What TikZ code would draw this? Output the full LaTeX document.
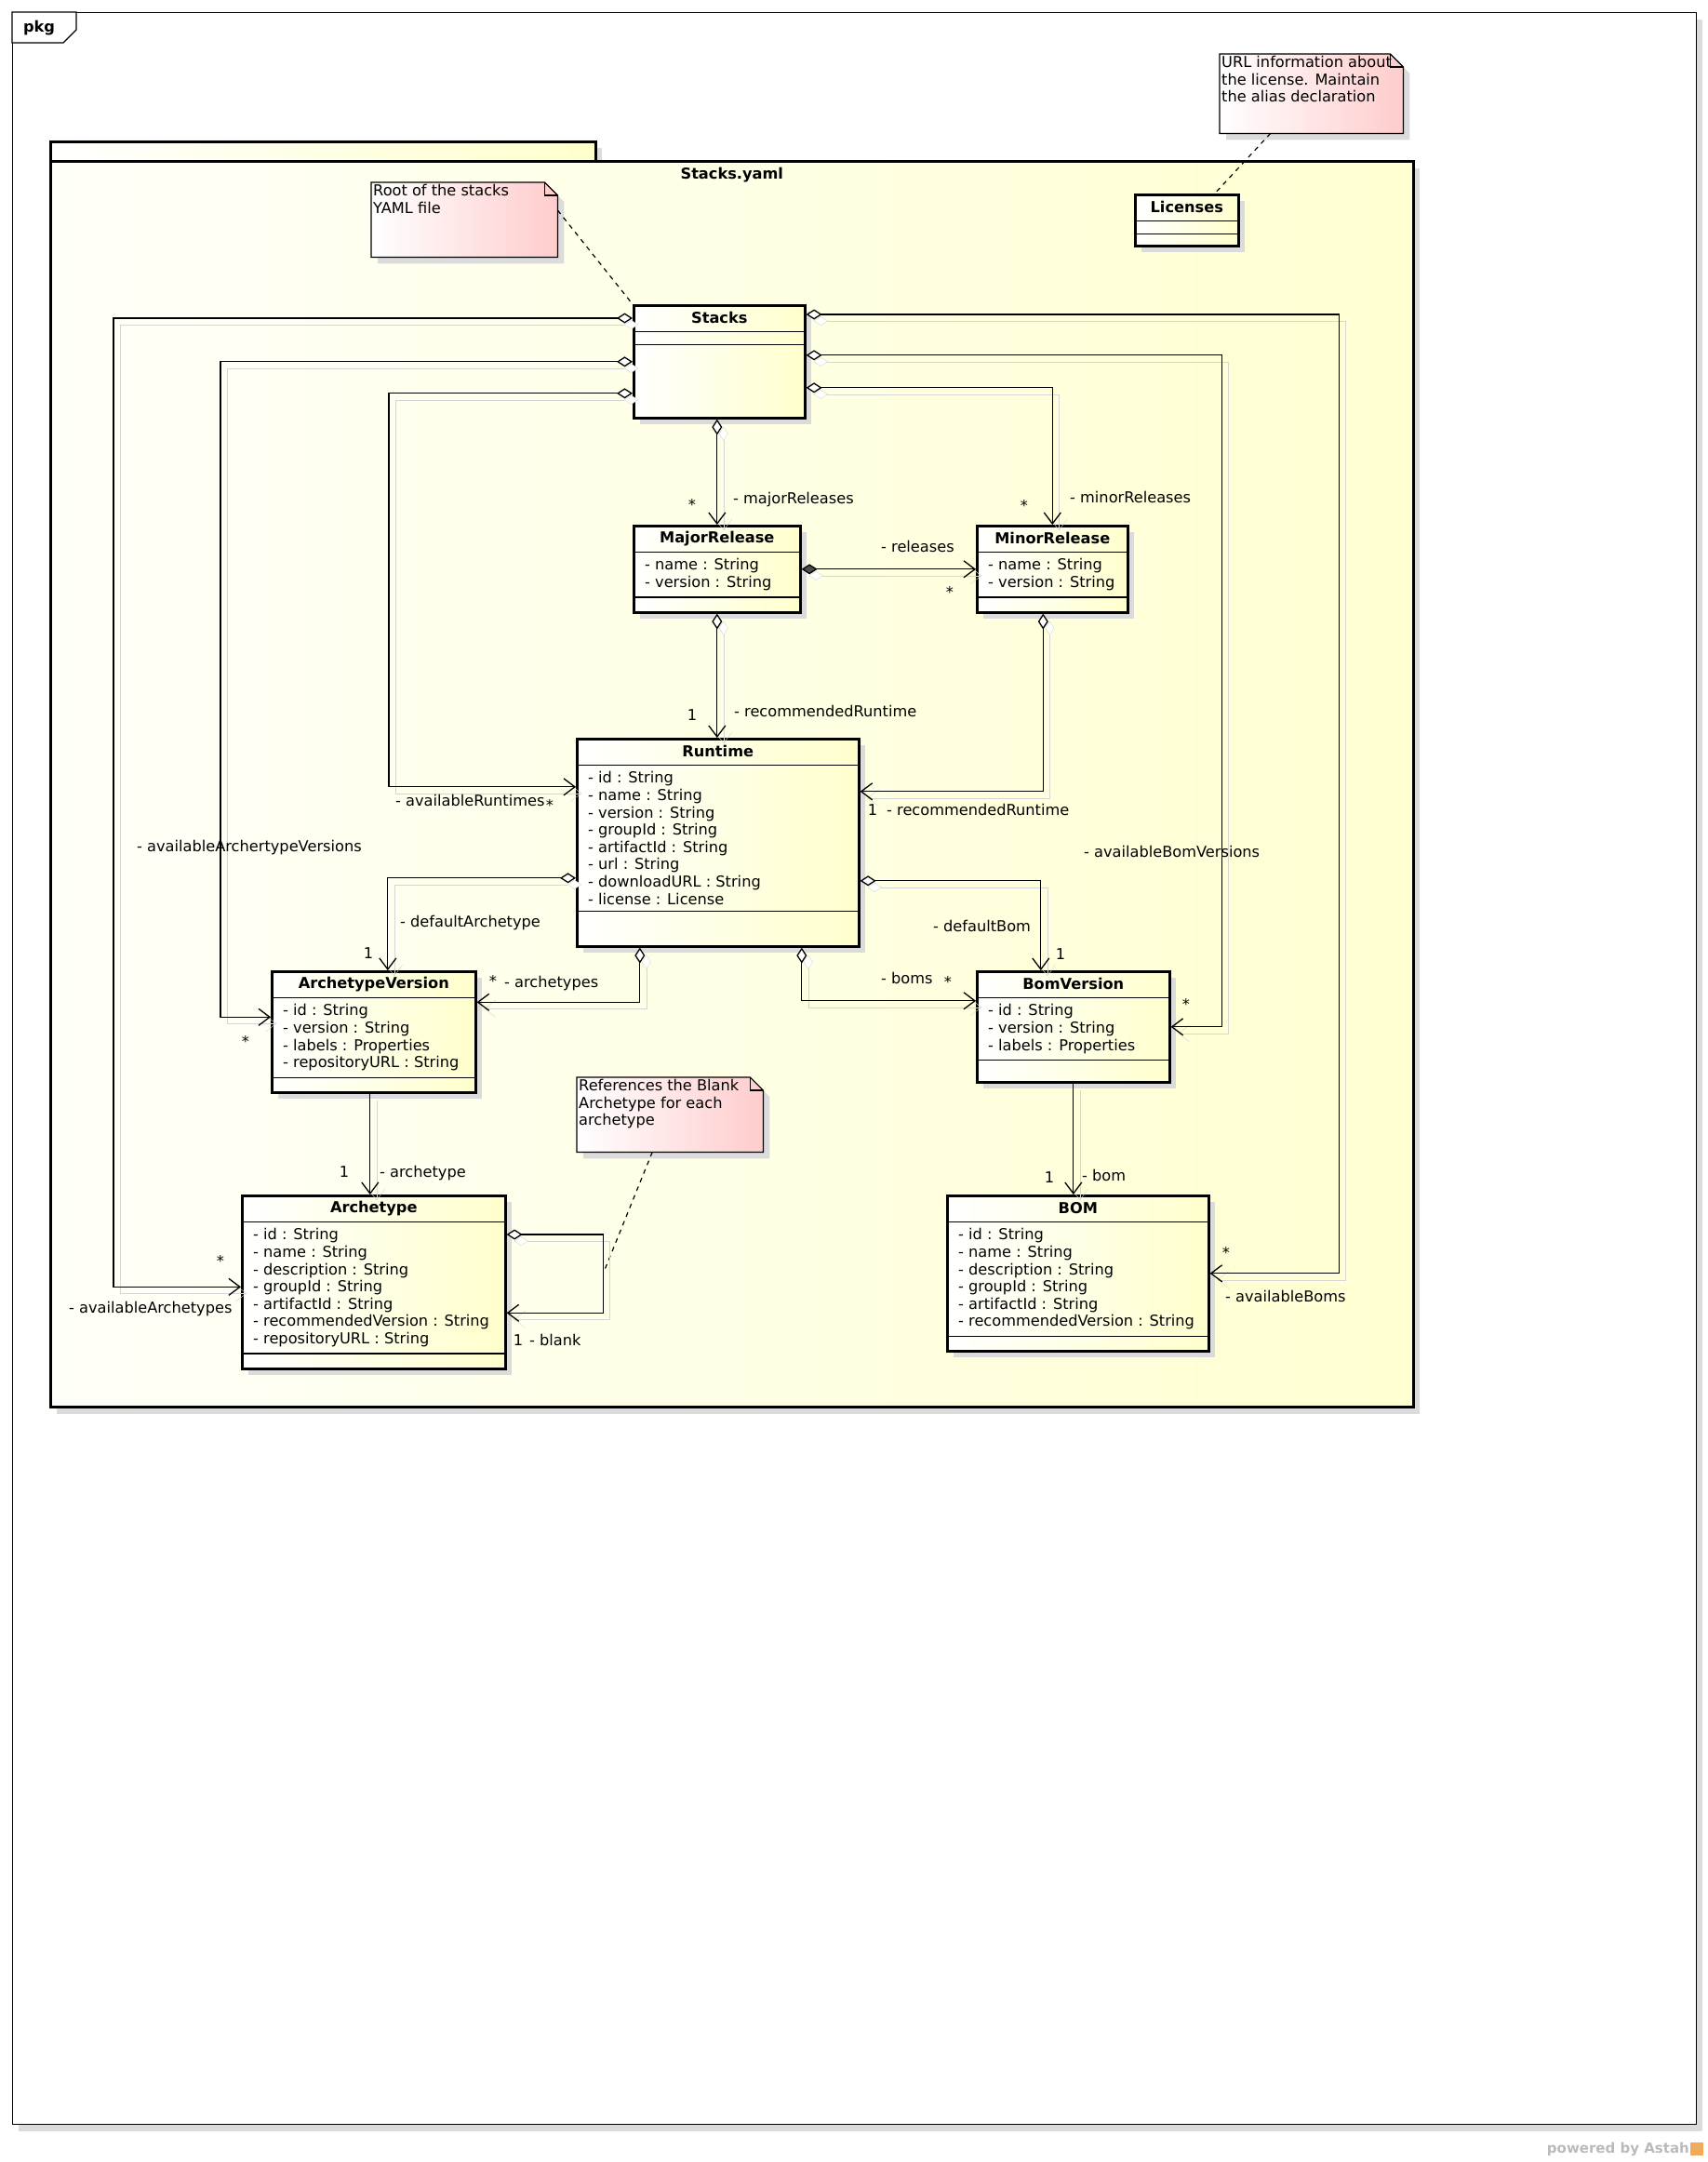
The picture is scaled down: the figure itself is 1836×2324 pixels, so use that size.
\documentclass[tikz,border=0pt]{standalone}
\usepackage{fontspec}
\setmainfont{DejaVu Sans}
\usepackage{tikz}
\usetikzlibrary{arrows.meta,positioning,shadows,calc}
\definecolor{cyellow}{RGB}{255,255,204}
\definecolor{npink}{RGB}{255,204,204}
\definecolor{shadowgray}{gray}{0.86}
\definecolor{shadowline}{gray}{0.84}
\definecolor{astahorange}{RGB}{240,170,90}
\newcommand{\umlfont}{\fontsize{16.2pt}{18.6pt}\selectfont}

% class box: name, top left, width, height, title, attributes
\newcommand{\umlclass}[6]{%
  \node[classbox, minimum width=#3, minimum height=#4] (#1) at #2 {};
  \node[classtitle] (#1-t) at (#1.north) {#5};
  \node[classattr] (#1-a) at (#1-t.south -| #1.west) {#6};
  \draw[sep] (#1-t.south -| #1.west) -- (#1-t.south -| #1.east)
             (#1-a.south -| #1.west) -- (#1-a.south -| #1.east);
}
% note: name, top left, width, height, text
\newcommand{\umlnote}[5]{%
  \node[notebox, minimum width=#3, minimum height=#4] (#1) at #2 {};
  \shade[notefill] (#1.north west) -- ([xshift=-14pt]#1.north east)
    -- ([yshift=-14pt]#1.north east) -- (#1.south east) -- (#1.south west) -- cycle;
  \draw[line width=1.2pt] ([xshift=-14pt]#1.north east) |- ([yshift=-14pt]#1.north east);
  \node[notetext] (#1-txt) at (#1.north west) {#5};
}

\begin{document}
\begin{tikzpicture}[
    x=1pt, y=-1pt,
    every node/.style={font=\umlfont},
    classbox/.style={draw, line width=2.6pt, anchor=north west, inner sep=0pt,
                     left color=white, right color=cyellow,
                     drop shadow={shadow xshift=7pt, shadow yshift=-7pt, fill=shadowgray, opacity=1}},
    classtitle/.style={anchor=north, minimum height=29pt, inner sep=0pt, font=\umlfont\bfseries},
    classattr/.style={anchor=north west, align=left, inner xsep=13pt, inner ysep=7pt},
    sep/.style={line width=1.2pt},
    notebox/.style={anchor=north west, inner sep=0pt},
    notefill/.style={draw, line width=1.2pt, left color=white, right color=npink,
                     drop shadow={shadow xshift=7pt, shadow yshift=-7pt, fill=shadowgray, opacity=1}},
    notetext/.style={anchor=north west, align=left, inner xsep=2pt, inner ysep=2pt},
    noteline/.style={line width=1.2pt, dash pattern=on 5pt off 5pt},
    cshadow/.style={preaction={draw=shadowline, transform canvas={shift={(7pt,-7pt)}},
                    {Diamond[fill=white,length=17pt,width=11pt]}-{Straight Barb[length=12pt,width=18pt]}}},
    agg/.style={line width=1.3pt, cshadow,
                {Diamond[fill=white,length=17pt,width=11pt]}-{Straight Barb[length=12pt,width=18pt]}},
    comp/.style={line width=1.3pt, cshadow,
                 {Diamond[fill=black!70,length=17pt,width=11pt]}-{Straight Barb[length=12pt,width=18pt]}},
    nav/.style={line width=1.3pt,
                preaction={draw=shadowline, transform canvas={shift={(7pt,-7pt)}}},
                -{Straight Barb[length=12pt,width=18pt]}},
    lbl/.style={anchor=west, inner sep=0pt, text height=11.9pt, text depth=3.7pt},
    mult/.style={inner sep=0pt, text height=11.9pt, text depth=3.7pt}
  ]
  \useasboundingbox (0,0) rectangle (1836,2324);

  % diagram frame
  \node[draw, line width=1.2pt, anchor=north west, fill=white, minimum width=1810pt, minimum height=2270pt,
        drop shadow={shadow xshift=6pt, shadow yshift=-7pt, fill=shadowgray, opacity=1}] (frame) at (13,13) {};
  \draw[line width=1.2pt, fill=white] (frame.north west) -- ++(69,0) -- ++(0,19) -- ++(-14,14) -- ++(-55,0) -- cycle;
  \node[font=\umlfont\bfseries] (pkgtag) at (42,30) {pkg};

  % package Stacks.yaml
  \node[draw, line width=2.6pt, anchor=north west, left color=white, right color=cyellow,
        minimum width=586pt, minimum height=21pt,
        drop shadow={shadow xshift=7pt, shadow yshift=-7pt, fill=shadowgray, opacity=1}] (pkgtab) at (53,151) {};
  \node[draw, line width=2.6pt, anchor=north west, left color=cyellow!12, right color=cyellow!90,
        minimum width=1465pt, minimum height=1339pt,
        drop shadow={shadow xshift=7pt, shadow yshift=-8pt, fill=shadowgray, opacity=1}] (pkg) at (53,172) {};
  \node[font=\umlfont\bfseries] (pkgname) at ([yshift=-16pt]pkg.north) {Stacks.yaml};

  % notes
  \umlnote{rootnote}{(399,196)}{200pt}{80pt}{Root of the stacks\\YAML file}
  \umlnote{licnote}{(1311,58)}{197pt}{85pt}{URL information about\\the license. Maintain\\the alias declaration}
  \umlnote{blanknote}{(620,1158)}{200pt}{80pt}{References the Blank\\Archetype for each\\archetype}

  % classes
  \umlclass{stacks}{(680,327)}{184pt}{121pt}{Stacks}{}
  \umlclass{licenses}{(1219,208)}{111pt}{55pt}{Licenses}{}
  \umlclass{major}{(680,564)}{179pt}{93pt}{MajorRelease}{- name : String\\- version : String}
  \umlclass{minor}{(1049,564)}{162pt}{93pt}{MinorRelease}{- name : String\\- version : String}
  \umlclass{runtime}{(619,793)}{303pt}{223pt}{Runtime}{- id : String\\- name : String\\- version : String\\- groupId : String\\- artifactId : String\\- url : String\\- downloadURL : String\\- license : License}
  \umlclass{archv}{(291,1043)}{219pt}{130pt}{ArchetypeVersion}{- id : String\\- version : String\\- labels : Properties\\- repositoryURL : String}
  \umlclass{arch}{(259,1284)}{283pt}{186pt}{Archetype}{- id : String\\- name : String\\- description : String\\- groupId : String\\- artifactId : String\\- recommendedVersion : String\\- repositoryURL : String}
  \umlclass{bomv}{(1049,1043)}{207pt}{119pt}{BomVersion}{- id : String\\- version : String\\- labels : Properties}
  \umlclass{bom}{(1017,1284)}{281pt}{167pt}{BOM}{- id : String\\- name : String\\- description : String\\- groupId : String\\- artifactId : String\\- recommendedVersion : String}

  % note links
  \coordinate (blankmid) at ([xshift=104pt,yshift=10pt]arch.east);
  \draw[noteline] ([yshift=-30pt]rootnote.north east) -- (stacks.north west);
  \draw[noteline] ([xshift=-44pt]licnote.south) -- ([xshift=30pt]licenses.north);
  \draw[noteline] ([xshift=-19pt]blanknote.south) -- (blankmid);

  % associations
  \draw[agg] ([yshift=-15pt]stacks.north west) -| ([xshift=-137pt,yshift=-5pt]arch.west) -- ([yshift=-5pt]arch.west);
  \draw[agg] (stacks.west) -| ([xshift=-54pt,yshift=16pt]archv.west) -- ([yshift=16pt]archv.west);
  \draw[agg] ([yshift=-34pt]stacks.west) -| ([xshift=-201pt,yshift=60pt]runtime.west) -- ([yshift=60pt]runtime.west);
  \draw[agg] ([yshift=7pt]stacks.east) -| ([xshift=55pt]bomv.east) -- (bomv.east);
  \draw[agg] ([yshift=-11pt]stacks.north east) -| ([xshift=139pt]bom.east) -- (bom.east);
  \draw[agg] ([yshift=-28pt]stacks.east) -| (minor.north);
  \draw[agg] (major.north |- stacks.south) -- (major.north);
  \draw[comp] (major.east) -- (minor.west);
  \draw[agg] (major.south) -- (major.south |- runtime.north);
  \draw[agg] ([xshift=-10pt]minor.south) |- ([yshift=55pt]runtime.east);
  \draw[agg] ([yshift=-38pt]runtime.west) -| ([xshift=15pt]archv.north);
  \draw[agg] ([xshift=-84pt]runtime.south) |- ([yshift=32pt]archv.east);
  \draw[agg] ([yshift=-41pt]runtime.east) -| ([xshift=-35pt]bomv.north);
  \draw[agg] ([xshift=90pt]runtime.south) |- ([yshift=28pt]bomv.west);
  \draw[nav] ([xshift=-4pt]archv.south) -- ([xshift=-4pt]archv.south |- arch.north);
  \draw[agg] ([yshift=-43pt]arch.north east) -- ++(104,0) |- ([yshift=-33pt]arch.east);
  \draw[nav] (bomv.south) -- (bomv.south |- bom.north);

  % role names and multiplicities
  \node[lbl] (l-majrel) at (788,537) {- majorReleases};
  \node[mult] (m-majrel) at (744,544) {*};
  \node[lbl] (l-minrel) at (1150,536) {- minorReleases};
  \node[mult] (m-minrel) at (1101,545) {*};
  \node[lbl] (l-avrt) at (425,862) {- availableRuntimes};
  \node[mult] (m-avrt) at (591,867) {*};
  \node[lbl] (l-avav) at (147,911) {- availableArchertypeVersions};
  \node[mult] (m-avav) at (264,1121) {*};
  \node[lbl] (l-avar) at (74,1407) {- availableArchetypes};
  \node[mult] (m-avar) at (237,1357) {*};
  \node[lbl] (l-avbv) at (1165,917) {- availableBomVersions};
  \node[mult] (m-avbv) at (1275,1081) {*};
  \node[lbl] (l-avbom) at (1317,1395) {- availableBoms};
  \node[mult] (m-avbom) at (1318,1348) {*};
  \node[lbl] (l-rel) at (947,589) {- releases};
  \node[mult] (m-rel) at (1021,638) {*};
  \node[lbl] (l-majrt) at (789,766) {- recommendedRuntime};
  \node[mult] (m-majrt) at (744,770) {1};
  \node[lbl] (l-minrt) at (953,872) {- recommendedRuntime};
  \node[mult] (m-minrt) at (938,872) {1};
  \node[lbl] (l-defarch) at (430,992) {- defaultArchetype};
  \node[mult] (m-defarch) at (396,1026) {1};
  \node[lbl] (l-archs) at (542,1057) {- archetypes};
  \node[mult] (m-archs) at (530,1056) {*};
  \node[lbl] (l-defbom) at (1003,997) {- defaultBom};
  \node[mult] (m-defbom) at (1140,1027) {1};
  \node[lbl] (l-boms) at (947,1053) {- boms};
  \node[mult] (m-boms) at (1019,1057) {*};
  \node[lbl] (l-arch) at (408,1261) {- archetype};
  \node[mult] (m-arch) at (370,1261) {1};
  \node[lbl] (l-blank) at (569,1442) {- blank};
  \node[mult] (m-blank) at (557,1442) {1};
  \node[lbl] (l-bom) at (1163,1265) {- bom};
  \node[mult] (m-bom) at (1128,1267) {1};

  % footer
  \node[anchor=east, inner sep=0pt, text=black!27, font=\fontsize{15pt}{17pt}\selectfont\bfseries] (astah) at (1816,2310) {powered by Astah};
  \node[fill=astahorange, minimum size=14pt, inner sep=0pt] (astahlogo) at (1824,2310) {};
\end{tikzpicture}
\end{document}
